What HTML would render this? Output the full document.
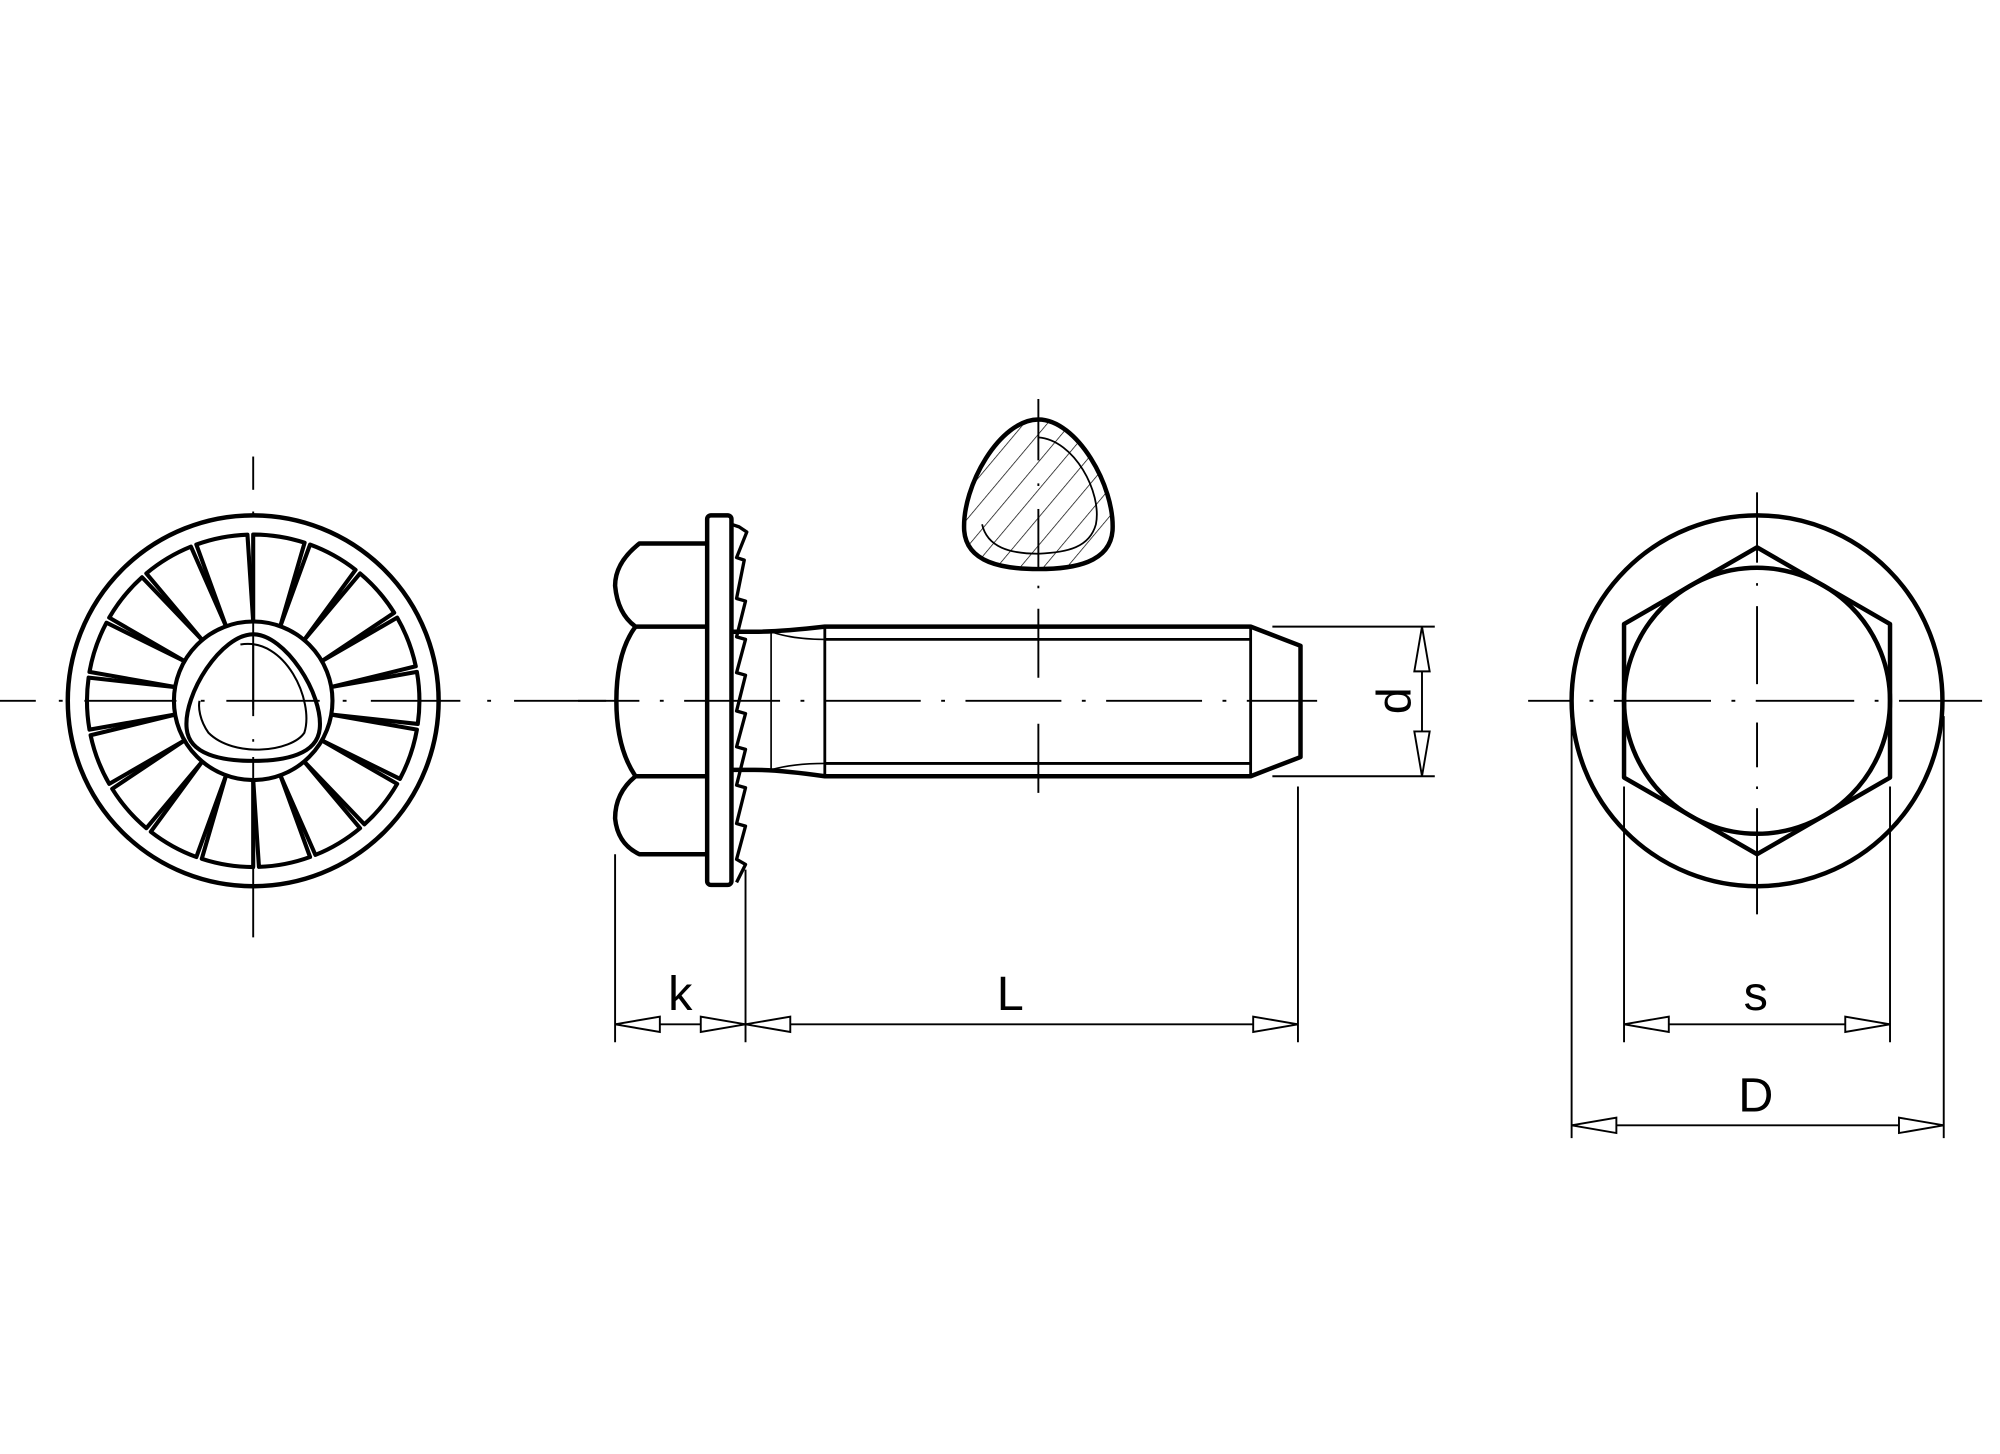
<!DOCTYPE html>
<html><head><meta charset="utf-8"><style>html,body{margin:0;padding:0;background:#fff}svg{display:block}</style></head>
<body>
<svg width="2000" height="1454" viewBox="0 0 1564 1137" xmlns="http://www.w3.org/2000/svg" font-family="'Liberation Sans', sans-serif">
<defs>
<path id="tooth" d="M62,0 L130,0 A130,130 0 0 1 123.6,40.2 L58.3,21.2" fill="none" stroke="#000" stroke-width="3.2" stroke-linejoin="round"/>
<pattern id="hatch" width="14" height="14" patternUnits="userSpaceOnUse" patternTransform="rotate(40)">
<line x1="0" y1="0" x2="0" y2="14" stroke="#000" stroke-width="1.1"/>
</pattern>
<clipPath id="dropclip"><path d="M812,328 C842,328 872,380 870,415 C868,440 840,445 812,445 C784,445 756,440 754,415 C752,380 782,328 812,328 Z"/></clipPath>
</defs>
<rect width="1564" height="1137" fill="#fff"/>

<!-- LEFT VIEW -->
<g transform="translate(198,548)">
<circle r="145" fill="none" stroke="#000" stroke-width="3.5"/>
<g transform="rotate(-90)">
<use href="#tooth" transform="rotate(0)"/><use href="#tooth" transform="rotate(20)"/><use href="#tooth" transform="rotate(40)"/>
<use href="#tooth" transform="rotate(60)"/><use href="#tooth" transform="rotate(80)"/><use href="#tooth" transform="rotate(100)"/>
<use href="#tooth" transform="rotate(120)"/><use href="#tooth" transform="rotate(140)"/><use href="#tooth" transform="rotate(160)"/>
<use href="#tooth" transform="rotate(180)"/><use href="#tooth" transform="rotate(200)"/><use href="#tooth" transform="rotate(220)"/>
<use href="#tooth" transform="rotate(240)"/><use href="#tooth" transform="rotate(260)"/><use href="#tooth" transform="rotate(280)"/>
<use href="#tooth" transform="rotate(300)"/><use href="#tooth" transform="rotate(320)"/><use href="#tooth" transform="rotate(340)"/>
</g>
<circle r="62" fill="#fff" stroke="#000" stroke-width="3.2"/>
<path d="M0,-52 C25,-52 55,-5 52,22 C50,42 25,47 0,47 C-25,47 -50,42 -52,22 C-55,-5 -25,-52 0,-52 Z" fill="none" stroke="#000" stroke-width="3.2"/>
<path d="M-10,-44 C25,-50 48,0 40,25 C30,40 -15,45 -35,25 C-42,15 -43,5 -42,0" fill="none" stroke="#000" stroke-width="1.6"/>
<line x1="0" y1="-45" x2="0" y2="12" stroke="#000" stroke-width="1.5"/>
</g>
<g stroke="#000" stroke-width="1.5">
<line x1="0" y1="548" x2="28" y2="548"/><line x1="46" y1="548" x2="49" y2="548"/><line x1="66" y1="548" x2="138" y2="548"/>
<line x1="157" y1="548" x2="160" y2="548"/><line x1="177" y1="548" x2="250" y2="548"/><line x1="268" y1="548" x2="271" y2="548"/>
<line x1="290" y1="548" x2="360" y2="548"/><line x1="381" y1="548" x2="384" y2="548"/><line x1="402" y1="548" x2="474" y2="548"/>
<line x1="198" y1="357" x2="198" y2="383"/><line x1="198" y1="400" x2="198" y2="402"/><line x1="198" y1="420" x2="198" y2="555"/>
<line x1="198" y1="578" x2="198" y2="580"/><line x1="198" y1="592" x2="198" y2="733"/>
</g>

<!-- MIDDLE VIEW -->
<g fill="none" stroke="#000" stroke-width="3.5" stroke-linejoin="round">
<!-- head -->
<path d="M553,425 L500,425 Q481,440 481,458 Q483,480 497,490 L553,490"/>
<path d="M497,490 Q482,510 482,548 Q482,585 497,607"/>
<path d="M553,607 L497,607 Q481,620 481,640 Q483,660 500,668 L553,668"/>
<!-- flange -->
<rect x="553" y="403" width="19" height="289" rx="3"/>
<!-- shank -->
<path d="M572,494 L590,494 Q610,494 645,490 L978,490 L1017,505 L1017,592 L978,607 L645,607 Q610,602 590,602 L572,602"/>
</g>
<!-- serrations -->
<path d="M572,410 L578,412 L584,416 L576,436 L582,438 L576,468 L583,470 L576,498 L583,500 L576,526 L583,528 L576,556 L583,558 L576,584 L583,586 L576,614 L583,616 L576,644 L583,646 L576,672 L583,676 L576,690" fill="none" stroke="#000" stroke-width="2.6" stroke-linejoin="round"/>
<g stroke="#000" stroke-width="2.2" fill="none">
<line x1="645" y1="490" x2="645" y2="607"/><line x1="978" y1="490" x2="978" y2="607"/>
<line x1="645" y1="500" x2="978" y2="500"/><line x1="645" y1="597" x2="978" y2="597"/>
<line x1="603" y1="494" x2="603" y2="602" stroke-width="1.3"/>
<path d="M603,494 Q620,500 645,500 M603,602 Q620,597 645,597" stroke-width="1.3"/>
</g>
<!-- centerline middle -->
<g stroke="#000" stroke-width="1.5">
<line x1="452" y1="548" x2="500" y2="548"/><line x1="516" y1="548" x2="519" y2="548"/><line x1="535" y1="548" x2="610" y2="548"/>
<line x1="626" y1="548" x2="629" y2="548"/><line x1="645" y1="548" x2="720" y2="548"/><line x1="736" y1="548" x2="739" y2="548"/>
<line x1="755" y1="548" x2="830" y2="548"/><line x1="846" y1="548" x2="849" y2="548"/><line x1="865" y1="548" x2="940" y2="548"/>
<line x1="956" y1="548" x2="959" y2="548"/><line x1="975" y1="548" x2="1030" y2="548"/>
<line x1="812" y1="312" x2="812" y2="360"/><line x1="812" y1="378" x2="812" y2="380"/><line x1="812" y1="398" x2="812" y2="445"/>
<line x1="812" y1="458" x2="812" y2="460"/><line x1="812" y1="476" x2="812" y2="530"/><line x1="812" y1="566" x2="812" y2="620"/>
</g>
<!-- teardrop section -->
<rect x="740" y="320" width="140" height="130" fill="url(#hatch)" clip-path="url(#dropclip)"/>
<path d="M812,328 C842,328 872,380 870,415 C868,440 840,445 812,445 C784,445 756,440 754,415 C752,380 782,328 812,328 Z" fill="none" stroke="#000" stroke-width="3.5"/>
<path d="M812,342 C840,344 862,385 857,410 C852,428 835,432 812,433 C790,433 772,428 768,410" fill="none" stroke="#000" stroke-width="1.4"/>

<!-- dims middle -->
<g stroke="#000" stroke-width="1.5" fill="#fff">
<line x1="995" y1="490" x2="1122" y2="490"/><line x1="995" y1="607" x2="1122" y2="607"/>
<line x1="1112" y1="490" x2="1112" y2="607"/>
<path d="M1112,490 L1106,525 L1118,525 Z"/><path d="M1112,607 L1106,572 L1118,572 Z"/>
<line x1="481" y1="668" x2="481" y2="815"/><line x1="583" y1="680" x2="583" y2="815"/><line x1="1015" y1="615" x2="1015" y2="815"/>
<line x1="481" y1="801" x2="1015" y2="801"/>
<path d="M481,801 L516,795 L516,807 Z"/><path d="M583,801 L548,795 L548,807 Z"/>
<path d="M583,801 L618,795 L618,807 Z"/><path d="M1015,801 L980,795 L980,807 Z"/>
</g>
<text x="1090" y="548" font-size="38" text-anchor="middle" transform="rotate(-90 1090 548)" dy="13">d</text>
<text x="532" y="790" font-size="38" text-anchor="middle">k</text>
<text x="790" y="790" font-size="38" text-anchor="middle">L</text>

<!-- RIGHT VIEW -->
<g fill="none" stroke="#000" stroke-width="3.5" stroke-linejoin="round">
<circle cx="1374" cy="548" r="145"/>
<polygon points="1374,428 1478,488 1478,608 1374,668 1270,608 1270,488"/>
<circle cx="1374" cy="548" r="104"/>
</g>
<g stroke="#000" stroke-width="1.5">
<line x1="1195" y1="548" x2="1228" y2="548"/><line x1="1243" y1="548" x2="1246" y2="548"/><line x1="1262" y1="548" x2="1338" y2="548"/>
<line x1="1354" y1="548" x2="1357" y2="548"/><line x1="1373" y1="548" x2="1450" y2="548"/><line x1="1466" y1="548" x2="1469" y2="548"/>
<line x1="1485" y1="548" x2="1550" y2="548"/>
<line x1="1374" y1="385" x2="1374" y2="440"/><line x1="1374" y1="456" x2="1374" y2="458"/><line x1="1374" y1="474" x2="1374" y2="535"/>
<line x1="1374" y1="565" x2="1374" y2="600"/><line x1="1374" y1="615" x2="1374" y2="617"/><line x1="1374" y1="632" x2="1374" y2="715"/>
</g>
<g stroke="#000" stroke-width="1.5" fill="#fff">
<line x1="1270" y1="615" x2="1270" y2="815"/><line x1="1478" y1="615" x2="1478" y2="815"/>
<line x1="1229" y1="560" x2="1229" y2="890"/><line x1="1520" y1="560" x2="1520" y2="890"/>
<line x1="1270" y1="801" x2="1478" y2="801"/>
<path d="M1270,801 L1305,795 L1305,807 Z"/><path d="M1478,801 L1443,795 L1443,807 Z"/>
<line x1="1229" y1="880" x2="1520" y2="880"/>
<path d="M1229,880 L1264,874 L1264,886 Z"/><path d="M1520,880 L1485,874 L1485,886 Z"/>
</g>
<text x="1373" y="790" font-size="38" text-anchor="middle">s</text>
<text x="1373" y="869" font-size="38" text-anchor="middle">D</text>
</svg>
</body></html>
